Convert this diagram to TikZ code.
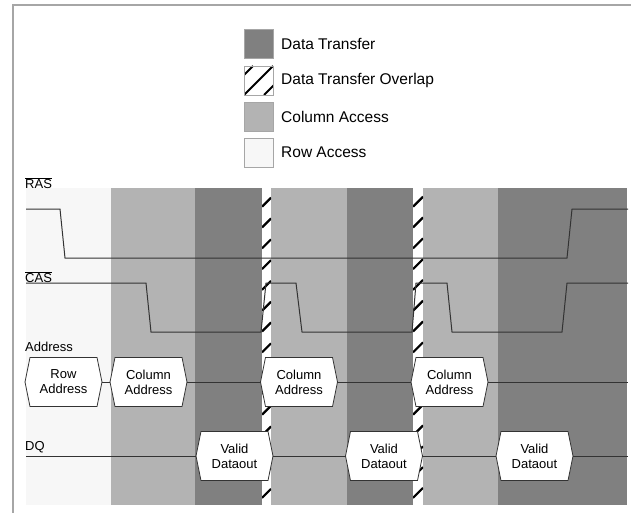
\documentclass[tikz,border=0pt]{standalone}
\usepackage{fontspec}
\setmainfont{Liberation Sans}
\usetikzlibrary{shapes.symbols}
\definecolor{rowacc}{HTML}{F7F7F7}
\definecolor{colacc}{HTML}{B3B3B3}
\definecolor{dattr}{HTML}{808080}
\definecolor{wave}{HTML}{333333}
\begin{document}
\begin{tikzpicture}[x=1pt,y=-1pt]
\tikzstyle{every node}+=[inner sep=0pt]
\tikzstyle{legbox}=[draw=black!35,line width=0.8pt,minimum size=29pt]
\tikzstyle{legtext}=[anchor=west,font=\fontsize{15.5}{18}\selectfont]
\tikzstyle{siglabel}=[anchor=west,font=\fontsize{13}{15}\selectfont]
\tikzstyle{hexbox}=[signal,signal to=west and east,signal pointer angle=157,draw=wave,fill=white,line width=0.8pt,minimum width=77pt,minimum height=49pt,align=center,font=\fontsize{13}{15}\selectfont]
\tikzstyle{hatchline}=[black,line width=2.2pt]
\tikzstyle{wavel}=[wave,line width=1pt]
\useasboundingbox (0,0) rectangle (631,513);
\draw [black!35,line width=1.2pt] (13,513) -- (13,5) -- (631,5);
% legend
\node [legbox,fill=dattr] (ldt) at (258.5,44) {};
\node [legtext] (tdt) at (281,44) {Data Transfer};
\begin{scope}
\clip (244,66) rectangle (273,95);
\foreach \d in {-20,0,20}
  \draw [hatchline,line width=2pt] ({244+\d},95) -- ({273+\d},66);
\end{scope}
\node [legbox] (lov) at (258.5,80.5) {};
\node [legtext] (tov) at (281,80.5) {Data Transfer Overlap};
\node [legbox,fill=colacc] (lca) at (258.5,116.5) {};
\node [legtext] (tca) at (281,116.5) {Column Access};
\node [legbox,fill=rowacc] (lra) at (258.5,152.5) {};
\node [legtext] (tra) at (281,152.5) {Row Access};
% phases
\fill [rowacc] (26,188) rectangle (111,505);
\fill [colacc] (111,188) rectangle (195,505);
\fill [dattr] (195,188) rectangle (262,505);
\fill [colacc] (271,188) rectangle (347,505);
\fill [dattr] (347,188) rectangle (413,505);
\fill [colacc] (423,188) rectangle (498,505);
\fill [dattr] (498,188) rectangle (627,505);
\foreach \xa/\xb in {262/271,413/423} {
  \begin{scope}
  \clip (\xa,188) rectangle (\xb,505);
  \foreach \k in {-1,...,15}
    \draw [hatchline] (\xa,{206.7+20.8*\k}) -- (\xb,{206.7-(\xb-\xa)+20.8*\k});
  \end{scope}
}
% signals
\node [siglabel] (ras) at (25,183) {$\overline{\mbox{RAS}}$};
\node [siglabel] (cas) at (25,277) {$\overline{\mbox{CAS}}$};
\node [siglabel] (addr) at (25,347) {Address};
\node [siglabel] (dq) at (25,447) {DQ};
\draw [wavel] (26,209) -- (60,209) -- (65,258) -- (567,258) -- (572,209) -- (628,209);
\draw [wavel] (26,283) -- (146,283) -- (151,332) -- (261,332) -- (266,283) -- (296,283)
  -- (302,332) -- (412,332) -- (416,283) -- (447,283) -- (452,332) -- (562,332)
  -- (567,283) -- (628,283);
\node [hexbox] (ra) at (63.5,382) {Row\\Address};
\node [hexbox] (ca1) at (148.5,382) {Column\\Address};
\node [hexbox] (ca2) at (299,382) {Column\\Address};
\node [hexbox] (ca3) at (449.5,382) {Column\\Address};
\coordinate (addrend) at (628,382);
\draw [wavel] (ra.east) -- (ca1.west);
\draw [wavel] (ca1.east) -- (ca2.west);
\draw [wavel] (ca2.east) -- (ca3.west);
\draw [wavel] (ca3.east) -- (addrend);
\node [hexbox] (vd1) at (234.5,456) {Valid\\Dataout};
\node [hexbox] (vd2) at (384,456) {Valid\\Dataout};
\node [hexbox] (vd3) at (534.5,456) {Valid\\Dataout};
\coordinate (dqstart) at (26,456);
\coordinate (dqend) at (628,456);
\draw [wavel] (dqstart) -- (vd1.west);
\draw [wavel] (vd1.east) -- (vd2.west);
\draw [wavel] (vd2.east) -- (vd3.west);
\draw [wavel] (vd3.east) -- (dqend);
\end{tikzpicture}
\end{document}
